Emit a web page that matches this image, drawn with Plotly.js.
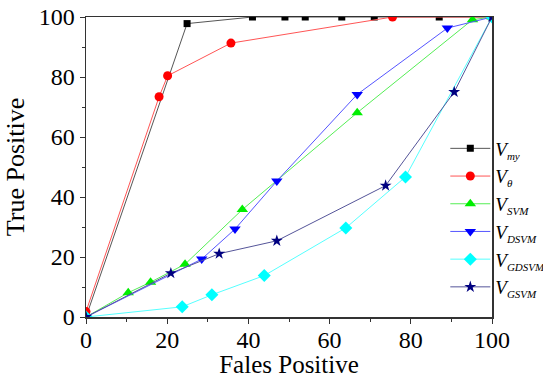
<!DOCTYPE html>
<html>
<head>
<meta charset="utf-8">
<script src="https://cdn.plot.ly/plotly-3.0.1.min.js"></script>
<style>html,body{margin:0;padding:0;background:#fff;}#chart{width:543px;height:378px;}</style>
</head>
<body>
<div id="chart"></div>
<script>
// Data
const myX = [0, 24.9, 41, 49, 54, 63, 71, 87, 100];
const myY = [0, 97.8, 100, 100, 100, 100, 100, 100, 100];
const thetaX = [0, 18, 20.1, 35.7, 75.5, 100];
const thetaY = [1.8, 73.4, 80.4, 91.3, 100, 100];
const svmX = [0, 10.4, 15.9, 24.4, 38.5, 66.8, 95.2, 100];
const svmY = [0, 8.1, 11.6, 17.6, 35.8, 68.1, 99.1, 100];
const dsvmX = [0, 28.5, 36.7, 47, 66.8, 89, 100];
const dsvmY = [0, 19.3, 29.3, 45.3, 74.2, 96.3, 100];
const gdsvmX = [0, 23.7, 31, 43.9, 64, 78.7, 100];
const gdsvmY = [0, 3.4, 7.4, 13.8, 29.7, 46.7, 100];
const gsvmX = [0, 20.9, 32.8, 47, 73.8, 90.7, 100];
const gsvmY = [0, 14.6, 21.1, 25.4, 43.8, 75, 100];
const subscripts = ['my', 'θ', 'SVM', 'DSVM', 'GDSVM', 'GSVM'];
const seriesNames = subscripts.map(s => '<i>V</i><sub><span style="font-size:11px"><i>' + s + '</i></span></sub>');
const xTicks = [0, 20, 40, 60, 80, 100];
const yTicks = [0, 20, 40, 60, 80, 100];

function tr(x, y, name, lineColor, markerColor, symbol, size) {
  return {x: x, y: y, name: name, type: 'scatter', mode: 'lines+markers',
    line: {color: lineColor, width: 1},
    marker: {color: markerColor, symbol: symbol, size: size, line: {width: 0}}};
}
const data = [
  tr(myX, myY, seriesNames[0], '#555555', '#000000', 'square', 7),
  tr(thetaX, thetaY, seriesNames[1], '#ff5555', '#ff0000', 'circle', 9),
  tr(svmX, svmY, seriesNames[2], '#55ee55', '#00ee00', 'triangle-up', 10),
  tr(dsvmX, dsvmY, seriesNames[3], '#5555ff', '#0000ff', 'triangle-down', 10),
  tr(gdsvmX, gdsvmY, seriesNames[4], '#55ffff', '#00ffff', 'diamond', 10),
  tr(gsvmX, gsvmY, seriesNames[5], '#555599', '#000080', 'star', 9)
];
const axisFont = {family: 'Liberation Serif, Times New Roman, serif', size: 24, color: '#000'};
const layout = {
  width: 543, height: 378,
  margin: {l: 86, r: 51, t: 17, b: 61, autoexpand: false},
  paper_bgcolor: '#fff', plot_bgcolor: '#fff',
  showlegend: true,
  xaxis: {range: [0, 100], tickvals: xTicks, ticktext: xTicks.map(String),
    showgrid: false, zeroline: false, showline: true, linecolor: '#333', linewidth: 1.5, mirror: true,
    ticks: 'outside', ticklen: 5, tickwidth: 1, tickcolor: '#333', ticklabelstandoff: -4,
    minor: {dtick: 10, ticks: 'outside', ticklen: 3, tickcolor: '#333', showgrid: false},
    tickfont: axisFont,
    title: {text: 'Fales Positive', font: {family: 'Liberation Serif, serif', size: 25, color: '#000'}, standoff: 0}},
  yaxis: {range: [0, 100], tickvals: yTicks, ticktext: yTicks.map(String),
    showgrid: false, zeroline: false, showline: true, linecolor: '#333', linewidth: 1.5, mirror: true,
    ticks: 'outside', ticklen: 5, tickwidth: 1, tickcolor: '#333',
    minor: {dtick: 10, ticks: 'outside', ticklen: 3, tickcolor: '#333', showgrid: false},
    tickfont: axisFont,
    title: {text: 'True Positive', font: {family: 'Liberation Serif, serif', size: 26, color: '#000'}, standoff: 6}},
  legend: {x: 0.885, y: 0.625, xanchor: 'left', yanchor: 'top', bgcolor: 'rgba(0,0,0,0)',
    font: {family: 'Liberation Serif, serif', size: 19, color: '#000'}, itemwidth: 40, tracegroupgap: 0}
};
Plotly.newPlot('chart', data, layout, {displayModeBar: false, staticPlot: true});
</script>
</body>
</html>
